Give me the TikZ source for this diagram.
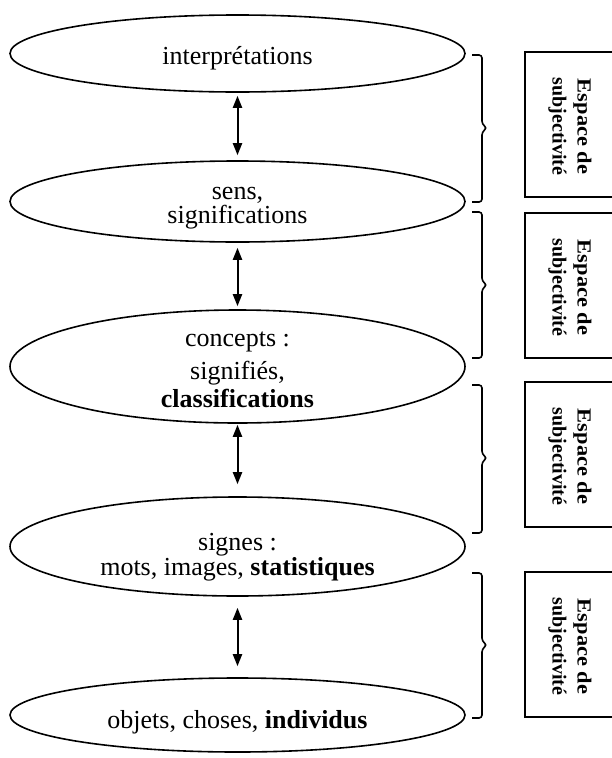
\documentclass[tikz,border=0pt]{standalone}
\usepackage{fontspec}
\setmainfont{Liberation Serif}
\usetikzlibrary{shapes.geometric,arrows.meta}
\begin{document}
\begin{tikzpicture}[x=1pt,y=-1pt,
  oval/.style={draw, ellipse, line width=1.6pt, minimum width=455pt, inner sep=0pt},
  lbl/.style={font=\fontsize{26}{24}\selectfont, align=center, inner sep=0pt},
  link/.style={{Triangle[length=12pt,width=9pt]}-{Triangle[length=12pt,width=9pt]}, line width=2pt},
  brk/.style={line width=1.6pt, rounded corners=3pt},
  sbox/.style={line width=1.6pt},
  stxt/.style={font=\bfseries\fontsize{20}{25}\selectfont, align=center, rotate=-90, inner sep=0pt}]
\useasboundingbox (0,0) rectangle (612,758);

% ellipses
\node[oval, minimum height=77pt]  (e1) at (237.5,53.5) {};
\node[oval, minimum height=81pt]  (e2) at (237.5,201.5) {};
\node[oval, minimum height=113pt] (e3) at (237.5,366.5) {};
\node[oval, minimum height=99pt]  (e4) at (237.5,546.5) {};
\node[oval, minimum height=74pt]  (e5) at (237.5,715) {};

% texts
\node[lbl] (t1) at (237.5,58) {interprétations};
\node[lbl] (t2) at (237.5,208) {sens,\\significations};
\node[lbl, font=\fontsize{26}{28}\selectfont] (t3) at (237.5,370) {concepts :\\[5pt]signifiés,\\\textbf{classifications}};
\node[lbl, font=\fontsize{26}{22}\selectfont] (t4) at (237.5,557) {signes :\\mots, images, \textbf{statistiques}};
\node[lbl] (t5) at (237.5,722) {objets, choses, \textbf{individus}};

% arrows
\draw[link, shorten <=3pt, shorten >=5pt] (e1.south) -- (e2.north);
\draw[link, shorten <=5pt, shorten >=3pt] (e2.south) -- (e3.north);
\draw[link, shorten <=1pt, shorten >=12pt] (e3.south) -- (e4.north);
\draw[link, shorten <=11pt, shorten >=11pt] (e4.south) -- (e5.north);

% braces
\foreach \t/\m/\b in {55/128/202, 212/285/358, 385/458/533, 573/645/718} {
  \draw[brk] (472,\t) -- (482,\t) -- (482,{\m-4}) -- (487,\m) -- (482,{\m+4}) -- (482,\b) -- (472,\b);
}

% boxes
\foreach \t/\b in {52/197, 213/358, 382/527, 572/717} {
  \draw[sbox] (612,\t) -- (525,\t) -- (525,\b) -- (612,\b);
}
\node[stxt] (s1) at (570,126.5) {\scalebox{1.12}[1]{Espace de}\\subjectivité};
\node[stxt] (s2) at (570,287.5) {\scalebox{1.12}[1]{Espace de}\\subjectivité};
\node[stxt] (s3) at (570,456.5) {\scalebox{1.12}[1]{Espace de}\\subjectivité};
\node[stxt] (s4) at (570,646.5) {\scalebox{1.12}[1]{Espace de}\\subjectivité};
\end{tikzpicture}
\end{document}
